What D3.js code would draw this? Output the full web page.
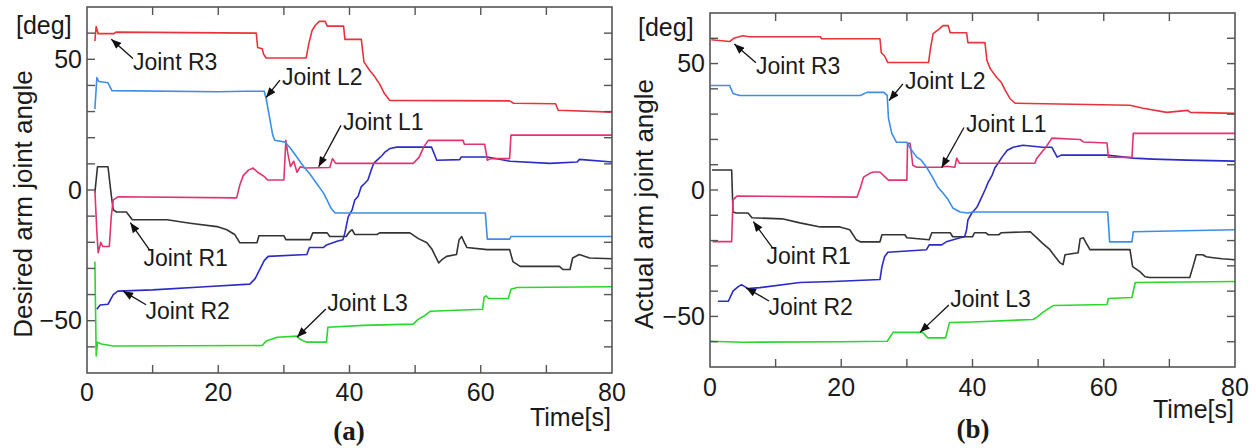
<!DOCTYPE html>
<html><head><meta charset="utf-8">
<script src="https://cdn.jsdelivr.net/npm/d3@7"></script>
<style>html,body{margin:0;padding:0;background:#fff;}svg{display:block;}</style>
</head><body>
<svg id="chart" width="1256" height="448"></svg>
<script>
// ---------- data (time [s], angle [deg]) ----------
const xTicks = [0, 20, 40, 60, 80];
const yTicks = [-50, 0, 50];
const jointNames = ["R3", "L2", "L1", "R1", "R2", "L3"];
const jointColors = ["#e8323c", "#3d8ee6", "#e2346c", "#333333", "#2b2bc8", "#2cd62c"];

const desiredR3 = [[1.2,57],[1.4,62.5],[1.7,59.8],[4.1,59.8],[4.4,60.4],[25.8,60],[26.0,54.5],[26.7,54],[26.9,52],[27.3,50.5],[33.4,50.5],[33.8,56],[34.3,61],[34.8,63],[35.4,64.5],[36.3,64.5],[36.6,62.7],[39.1,62.7],[39.3,57.6],[41.8,57.6],[42.2,49],[43.0,46],[43.8,43.5],[44.6,40.5],[45.3,37],[46.1,34.3],[64.4,34.1],[65.0,33.2],[71.4,33],[71.8,30.5],[80,29.8]];
const desiredL2 = [[1.2,31],[1.5,43],[1.8,41.5],[3.2,41],[3.8,38],[20,37.6],[24,37.8],[27.0,37.8],[27.3,35],[27.8,28],[28.3,21],[28.6,19],[30.2,18.3],[31,16],[32,12.5],[33,9],[34,6],[35,2.5],[36,-1],[36.6,-4],[37.2,-7],[37.8,-8.8],[60.7,-8.8],[61.0,-18.8],[64.4,-18.8],[64.6,-17.8],[80,-17.8]];
const desiredL1 = [[1.2,0],[1.5,-16],[1.7,-24],[2.1,-20],[2.4,-21.6],[3.4,-21.6],[3.7,-10],[4.0,-3.8],[4.7,-2.6],[22.8,-3],[23.3,2],[23.8,5.5],[24.6,7.6],[25.3,8.4],[26.0,6.8],[27.1,5],[27.5,3.8],[30.0,3.8],[30.3,19],[30.6,14],[31.0,9],[31.5,11],[32.0,6.8],[32.5,8.9],[33.2,8.4],[37.0,8.6],[37.4,12],[37.9,10.2],[49.7,10.2],[50.6,12.5],[51.3,16.4],[52.0,19],[57.3,19],[57.5,17.5],[60.6,17.5],[61.0,11.4],[61.5,12],[64.4,12],[64.6,21],[80,21]];
const desiredR1 = [[1.2,-1],[1.6,8.9],[3.2,8.9],[3.7,-2],[4.0,-7.6],[4.5,-8.4],[6.0,-8.4],[6.9,-11.4],[12.2,-11.4],[15.7,-12.7],[19.8,-14],[21.3,-15.2],[22.5,-17],[23.3,-20.2],[25.9,-20.2],[26.2,-17.5],[30.0,-17.5],[30.3,-19],[34.0,-19],[34.4,-16.4],[36.6,-16.4],[37,-17.8],[39.5,-17.8],[40.0,-16],[40.4,-15.2],[40.8,-17],[44.2,-17],[44.6,-16.4],[49.2,-16.4],[50.5,-18.6],[51.8,-20.2],[52.6,-22.8],[53.1,-25.4],[53.6,-27.9],[54.1,-26.6],[54.8,-25.4],[56.3,-24.7],[56.7,-19],[57.1,-17.8],[57.4,-19.6],[57.9,-22],[61,-22.8],[64.4,-22.8],[64.9,-27.4],[66,-29.2],[72,-29.2],[72.5,-30.4],[73.6,-30.4],[74.0,-26],[75,-24.7],[76.6,-26],[80,-26.3]];
const desiredR2 = [[1.5,-45.6],[2.0,-44],[3.2,-43.7],[4.0,-40],[4.7,-38.7],[10,-38.2],[18,-37],[24.8,-36],[25.6,-34],[26.2,-31],[26.6,-29],[27.0,-27],[27.6,-25.4],[33.5,-24.7],[33.9,-22],[36,-22],[36.5,-21],[38.1,-19.6],[39.0,-19],[39.3,-16.4],[39.8,-10.3],[40.4,-7.6],[40.8,-3.8],[41.3,-2.5],[41.8,1.3],[42.3,2.5],[42.8,3.8],[43.3,7.6],[43.7,10.2],[44.2,11.4],[45.0,13.3],[45.4,14.5],[46.2,15.9],[47.2,16.4],[52.5,16.4],[53.3,11.4],[56.8,11.6],[57.0,12.6],[61.0,12.6],[64.5,11],[70.5,10.2],[74.7,10.7],[75.0,11.7],[80,10.7]];
const desiredL3 = [[1.2,-27.4],[1.4,-63.5],[1.6,-58.2],[2.2,-58.9],[4.0,-59.7],[26.7,-59.5],[27.3,-57.8],[29,-56.3],[32,-55.9],[32.4,-57],[33.4,-58.2],[36.5,-58.2],[36.7,-52.5],[42,-51.8],[49.7,-51.3],[50.5,-49.4],[51.3,-48.3],[52.3,-46.4],[60.3,-45.6],[60.5,-41.1],[60.8,-40.5],[61.2,-41.5],[64.2,-41.5],[64.6,-38],[65.5,-37.3],[80,-37]];

const actualR3 = [[0.2,59.4],[3.0,58.7],[3.6,60],[5.0,61],[6,60.6],[16.8,60.6],[17,59.8],[25.9,59.8],[26.1,54.3],[26.6,53],[27.1,50.4],[33.3,50.4],[33.6,56],[34.0,61.8],[35.0,63.8],[35.5,65],[36.3,65],[36.6,62.2],[39.1,62.2],[39.3,58.3],[41.9,58.3],[42.2,51.2],[42.7,48],[43.7,44.5],[44.4,42.5],[45.0,39.4],[45.7,36.2],[46.5,34.3],[64.0,33.5],[66.0,32.3],[69.6,30.7],[72.8,31.5],[73.2,30.7],[80,30.3]];
const actualL2 = [[0.1,41.3],[3.0,41.3],[3.5,38.2],[4.5,37.4],[22.9,37.4],[23.9,38.6],[26.5,38.6],[27.0,37.4],[27.2,28.3],[27.7,22.4],[28.4,18.9],[30,18.9],[30.5,16.5],[31.5,13],[32.2,11.8],[33,9],[33.9,5.1],[34.7,1.2],[35.5,-1.2],[36.3,-3.9],[37,-7.1],[38.1,-8.7],[39.3,-9.1],[40,-8.7],[60.6,-8.7],[60.9,-20.5],[64.3,-20.5],[64.5,-16.5],[80,-15.7]];
const actualL1 = [[0.4,-20.4],[3.3,-20.4],[3.5,-3.9],[4.1,-2.4],[22.4,-2.8],[22.9,0.8],[23.4,5.1],[24.4,6.7],[25,7.1],[25.9,7.1],[26.7,5.1],[27.2,3.9],[30.0,3.9],[30.1,18.5],[30.5,18.5],[30.9,9.8],[31.5,9],[35.3,9],[36,9.4],[37.3,9],[37.6,12.6],[38.0,10.6],[49.5,10.6],[49.8,12.6],[51.2,17],[52.1,20.5],[56.4,20],[56.9,19],[60.5,18.6],[60.7,13],[64.3,12.9],[64.5,22.4],[80,22.4]];
const actualR1 = [[0.3,7.9],[3.3,7.9],[3.5,-8.7],[4.0,-9.1],[5.8,-9.1],[6.4,-11],[11,-11.4],[13.7,-13],[16.8,-14.6],[19.8,-14.6],[21.3,-15.7],[22.3,-19.7],[22.9,-20.5],[25.9,-20.5],[26.2,-17.7],[29.7,-17.7],[30,-18.9],[33.4,-19.7],[33.8,-16.9],[36.6,-16.9],[37,-18.5],[40,-18.5],[40.3,-16.9],[42,-16.9],[42.4,-17.7],[44,-17.7],[44.4,-16.9],[48.8,-16.5],[49.8,-18.9],[50.6,-20.9],[51.8,-23.6],[52.6,-26.4],[53.3,-28.7],[53.8,-29.5],[54.1,-25.6],[56.1,-24.8],[56.4,-19.3],[56.9,-18.9],[57.3,-20.9],[57.9,-23.6],[64,-23.6],[64.4,-30.3],[65.5,-32.3],[66.3,-34.3],[67,-34.6],[73.1,-34.6],[73.6,-30.3],[74.1,-25.6],[75.1,-25.6],[75.6,-26.4],[76.7,-26.8],[78,-27.2],[80,-27.6]];
const actualR2 = [[1.2,-44],[2.8,-44],[3.5,-40],[4.3,-38.2],[4.8,-37.4],[5.8,-39],[7.6,-38.6],[13.7,-36.6],[18.8,-36.2],[25.9,-35.4],[26.2,-30.3],[26.6,-26.4],[27.1,-24.6],[33,-23.6],[33.4,-21.7],[35.3,-21.7],[36,-20.5],[38.1,-18.9],[38.8,-18.5],[39.1,-15.7],[39.3,-11.8],[39.9,-9.1],[40.7,-6.7],[41.4,-2.8],[41.9,0],[42.4,3.1],[43.0,5.9],[43.4,8.7],[43.9,10.6],[44.5,13],[45.3,15.7],[46.2,16.9],[47.7,17.7],[50.7,16.9],[52.1,16.9],[52.9,13],[53.5,13.8],[60.5,13.8],[64.5,12.6],[67.5,12.2],[72.7,11.8],[80,11.4]];
const actualL3 = [[0,-59.8],[5,-60.2],[20,-60],[27,-59.8],[27.9,-56.3],[32.4,-56.3],[33.2,-58.5],[35.9,-58.5],[36.5,-52.4],[40,-52.2],[49.2,-51.2],[50,-50],[50.7,-48.4],[51.8,-46.5],[52.3,-45.7],[60.5,-45.3],[60.7,-42.9],[64.3,-42.5],[64.8,-36.6],[80,-36.2]];

// annotation: label text anchor (t,v), arrow start (t,v), arrow tip (t,v)
const annotLabels = ["Joint R3","Joint L2","Joint L1","Joint R1","Joint R2","Joint L3"];
const annotText  = [[7.0,49],[29.7,43.1],[39.0,26.1],[8.6,-26.1],[8.9,-46.2],[36.6,-43.1]];
const annotStart = [[7.0,50.3],[29.4,42],[38.7,24.7],[9.5,-22.8],[9.0,-43.9],[36.4,-45.5]];
const annotTip   = [[3.7,57.7],[27.3,35.4],[35.3,8.9],[6.6,-12.5],[5.5,-38.7],[32,-56.3]];

// ---------- drawing ----------
const svg = d3.select("#chart");
svg.append("rect").attr("width",1256).attr("height",448).attr("fill","#fff");
const defs = svg.append("defs");
defs.append("marker").attr("id","arrow").attr("viewBox","0 0 10 8")
  .attr("refX",10).attr("refY",4).attr("markerWidth",11).attr("markerHeight",8)
  .attr("markerUnits","userSpaceOnUse").attr("orient","auto")
  .append("path").attr("d","M0,0 L10,4 L0,8 Z").attr("fill","#111");

const panels = [
  {x0:87, x1:612, y0:373, y1:7, series:[desiredR3,desiredL2,desiredL1,desiredR1,desiredR2,desiredL3],
   title:"Desired arm joint angle", titleX:32, titleY:204, degX:16, degY:34,
   timeY:426, tag:"(a)", tagX:349, tagY:440, tickLabelY:401},
  {x0:710, x1:1235, y0:367, y1:13, series:[actualR3,actualL2,actualL1,actualR1,actualR2,actualL3],
   title:"Actual arm joint angle", titleX:653, titleY:204, degX:638, degY:36,
   timeY:418, tag:"(b)", tagX:973, tagY:438, tickLabelY:396}
];

const font = "'Liberation Sans', Arial, Helvetica, sans-serif";
const textCol = "#1a1a1a";

panels.forEach(p => {
  const x = d3.scaleLinear().domain([0,80]).range([p.x0,p.x1]);
  const y = d3.scaleLinear().domain([-70,70]).range([p.y0,p.y1]);
  const g = svg.append("g");

  // series
  const line = d3.line().x(d=>x(d[0])).y(d=>y(d[1]));
  const order = [5,3,4,2,1,0];
  order.forEach(i => {
    g.append("path").datum(p.series[i]).attr("d",line)
      .attr("fill","none").attr("stroke",jointColors[i]).attr("stroke-width",1.6)
      .attr("stroke-linejoin","round");
  });

  // frame
  g.append("rect").attr("x",p.x0).attr("y",p.y1).attr("width",p.x1-p.x0).attr("height",p.y0-p.y1)
    .attr("fill","none").attr("stroke","#555").attr("stroke-width",1.6);

  // inward ticks
  const tl = 8;
  const xt = d3.range(10,80,10), yt = d3.range(-60,70,10);
  const tickG = g.append("g").attr("stroke","#555").attr("stroke-width",1.4);
  xt.forEach(t => {
    tickG.append("line").attr("x1",x(t)).attr("x2",x(t)).attr("y1",p.y0).attr("y2",p.y0-tl);
    tickG.append("line").attr("x1",x(t)).attr("x2",x(t)).attr("y1",p.y1).attr("y2",p.y1+tl);
  });
  yt.forEach(v => {
    tickG.append("line").attr("x1",p.x0).attr("x2",p.x0+tl).attr("y1",y(v)).attr("y2",y(v));
    tickG.append("line").attr("x1",p.x1).attr("x2",p.x1-tl).attr("y1",y(v)).attr("y2",y(v));
  });

  // tick labels
  g.selectAll(null).data(xTicks).enter().append("text")
    .attr("x",d=>x(d)).attr("y",p.tickLabelY).attr("text-anchor","middle")
    .attr("font-family",font).attr("font-size",25).attr("fill",textCol).text(d=>d);
  g.selectAll(null).data(yTicks).enter().append("text")
    .attr("x",p.x0-5).attr("y",d=>y(d)).attr("dy","0.35em").attr("text-anchor","end")
    .attr("font-family",font).attr("font-size",25).attr("fill",textCol)
    .text(d=> d<0 ? "\u2212"+Math.abs(d) : d);

  // labels
  g.append("text").attr("x",p.degX).attr("y",p.degY).attr("font-family",font).attr("font-size",25)
    .attr("fill",textCol).text("[deg]");
  g.append("text").attr("transform",`translate(${p.titleX},${p.titleY}) rotate(-90)`)
    .attr("text-anchor","middle").attr("font-family",font).attr("font-size",26)
    .attr("fill",textCol).text(p.title);
  g.append("text").attr("x",p.x1-1).attr("y",p.timeY).attr("text-anchor","end")
    .attr("font-family",font).attr("font-size",25).attr("fill",textCol).text("Time[s]");
  g.append("text").attr("x",p.tagX).attr("y",p.tagY).attr("text-anchor","middle")
    .attr("font-family","'Liberation Serif', 'Times New Roman', serif").attr("font-weight","bold")
    .attr("font-size",27).attr("fill",textCol).text(p.tag);

  // annotations
  annotLabels.forEach((lab,i) => {
    g.append("line").attr("x1",x(annotStart[i][0])).attr("y1",y(annotStart[i][1]))
      .attr("x2",x(annotTip[i][0])).attr("y2",y(annotTip[i][1]))
      .attr("stroke","#111").attr("stroke-width",1.3).attr("marker-end","url(#arrow)");
    g.append("text").attr("x",x(annotText[i][0])).attr("y",y(annotText[i][1])).attr("dy","0.35em")
      .attr("font-family",font).attr("font-size",23).attr("fill",textCol).text(lab);
  });
});
</script>
</body></html>
